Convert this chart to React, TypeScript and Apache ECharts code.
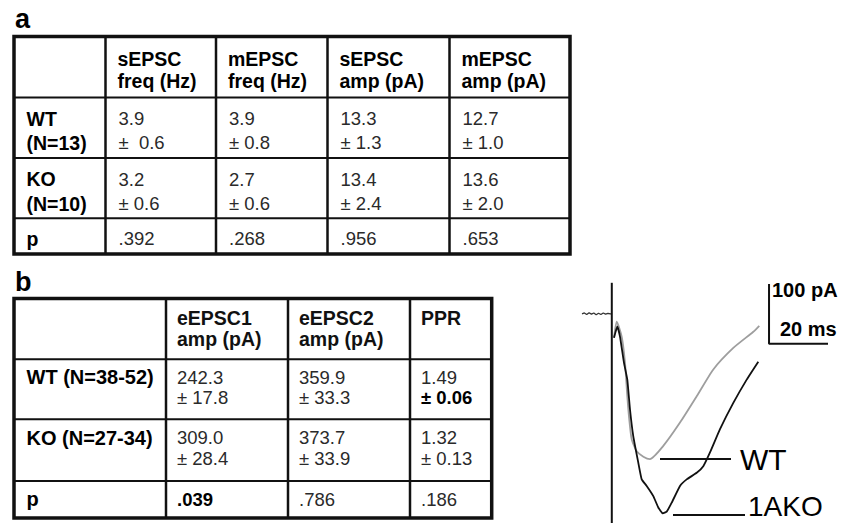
import React, { useEffect, useRef } from "react";
import * as echarts from "echarts";

const FONT = "'Liberation Sans', Arial, Helvetica, sans-serif";

// ---------- Table a ----------
const aColHeads = [["sEPSC", "freq (Hz)"], ["mEPSC", "freq (Hz)"], ["sEPSC", "amp (pA)"], ["mEPSC", "amp (pA)"]];
const aRowHeads = [["WT", "(N=13)"], ["KO", "(N=10)"], ["p"]];
const aWtMean = ["3.9", "3.9", "13.3", "12.7"];
const aWtSem = ["±  0.6", "± 0.8", "± 1.3", "± 1.0"];
const aKoMean = ["3.2", "2.7", "13.4", "13.6"];
const aKoSem = ["± 0.6", "± 0.6", "± 2.4", "± 2.0"];
const aP = [".392", ".268", ".956", ".653"];

// ---------- Table b ----------
const bColHeads = [["eEPSC1", "amp (pA)"], ["eEPSC2", "amp (pA)"], ["PPR"]];
const bRowHeads = ["WT (N=38-52)", "KO (N=27-34)", "p"];
const bWtMean = ["242.3", "359.9", "1.49"];
const bWtSem = ["± 17.8", "± 33.3", "± 0.06"];
const bKoMean = ["309.0", "373.7", "1.32"];
const bKoSem = ["± 28.4", "± 33.9", "± 0.13"];
const bP = [".039", ".786", ".186"];
const bBoldCells = ["± 0.06", ".039"];

// ---------- Traces (time in ms, current in pA) ----------
const baseTime = [0, 0.8, 1.6, 2.4, 3.2, 4.0, 4.8, 5.6, 6.4, 7.2, 8.0, 8.8, 9.6, 10.1];
const baseCurrent = [0, 1.5, -1, 2, -0.5, 1.5, -1.5, 1, -1, 1.5, -0.5, 1, 0, 0];
const artifactTime = [10.1, 10.1];
const artifactCurrent = [52, -350];
const wtTime = [10.85, 11.76, 13.46, 14.58, 15.36, 16.03, 16.85, 18.54, 20.8, 23.05, 27.56, 33.22, 38.88, 44.51, 51.29, 58.07, 60.1];
const wtCurrent = [-40, -13, -38, -82, -138, -177, -210, -230, -239, -243, -221, -182, -138, -93, -57, -30, -20];
const koTime = [10.85, 11.97, 12.88, 14.24, 15.36, 16.27, 17.39, 19.08, 20.24, 21.93, 24.17, 25.86, 27.36, 28.71, 30.41, 33.22, 35.49, 38.88, 41.12, 43.39, 46.78, 51.29, 55.83, 59.76];
const koCurrent = [-40, -21, -38, -82, -110, -160, -205, -249, -277, -288, -305, -324, -334, -331, -316, -288, -277, -266, -255, -232, -193, -149, -110, -80];
const scaleTime = [63.4, 63.4, 83.4];
const scaleCurrent = [50, -50, -50];
const scaleLabels = ["100 pA", "20 ms"];
const traceLabels = ["WT", "1AKO"];
const panelLabels = ["a", "b"];

const zip = (xs: number[], ys: number[]) => xs.map((x, i) => [x, ys[i]]);

const txt = (text: string, x: number, y: number, size: number, bold: boolean, fill = "#000") => ({
  type: "text",
  x,
  y,
  silent: true,
  style: {
    text,
    font: `${bold ? "bold " : ""}${size}px ${FONT}`,
    fill,
    textAlign: "left",
    textVerticalAlign: "middle",
    align: "left",
    verticalAlign: "middle",
  },
});
const ln = (x1: number, y1: number, x2: number, y2: number, w: number) => ({
  type: "line",
  silent: true,
  shape: { x1, y1, x2, y2 },
  style: { stroke: "#111", lineWidth: w },
});
const box = (x1: number, y1: number, x2: number, y2: number, w: number) => ({
  type: "rect",
  silent: true,
  shape: { x: x1, y: y1, width: x2 - x1, height: y2 - y1 },
  style: { fill: "none", stroke: "#111", lineWidth: w },
});

function buildGraphics() {
  const els: any[] = [];
  const dataColor = "#2a2a2a";
  // panel letters
  els.push(txt(panelLabels[0], 15, 18.6, 27, true));
  els.push(txt(panelLabels[1], 15, 282.3, 27, true));

  // ---- table a ----
  const aL = 14, aR = 570, aT = 36.5, aB = 254;
  const aCols = [105.5, 216, 327.5, 449.5];
  const aRows = [97.5, 158, 218.3];
  aCols.forEach((c) => els.push(ln(c, aT, c, aB, 2.5)));
  aRows.forEach((r) => els.push(ln(aL, r, aR, r, 2)));
  els.push(box(aL, aT, aR, aB, 3.5));
  const aHeadY = [59.2, 81];
  aColHeads.forEach((h, i) => h.forEach((s, j) => els.push(txt(s, aCols[i] + 12, aHeadY[j], 19.5, true))));
  const aRowY = [[118.8, 142.5], [179, 203.5], [238.5]];
  aRowHeads.forEach((h, i) => h.forEach((s, j) => els.push(txt(s, 26.5, aRowY[i][j], 19.5, true))));
  aCols.forEach((c, i) => {
    els.push(txt(aWtMean[i], c + 13, aRowY[0][0], 18.5, false, dataColor));
    els.push(txt(aWtSem[i], c + 13, aRowY[0][1], 18.5, false, dataColor));
    els.push(txt(aKoMean[i], c + 13, aRowY[1][0], 18.5, false, dataColor));
    els.push(txt(aKoSem[i], c + 13, aRowY[1][1], 18.5, false, dataColor));
    els.push(txt(aP[i], c + 13, aRowY[2][0], 18.5, false, dataColor));
  });

  // ---- table b ----
  const bL = 14, bR = 491.7, bT = 298.5, bB = 518;
  const bCols = [166, 288, 410];
  const bRows = [359.3, 419.3, 481];
  bCols.forEach((c) => els.push(ln(c, bT, c, bB, 2.5)));
  bRows.forEach((r) => els.push(ln(bL, r, bR, r, 2)));
  els.push(box(bL, bT, bR, bB, 3.5));
  const bHeadY = [318.3, 339];
  bColHeads.forEach((h, i) => h.forEach((s, j) => els.push(txt(s, bCols[i] + 11, bHeadY[j], 19.5, true, "#111"))));
  const bRowY = [[377, 397.5], [437.5, 458], [499]];
  bRowHeads.forEach((s, i) => els.push(txt(s, 26.5, bRowY[i][0], 20, true)));
  const cell = (s: string, x: number, y: number) =>
    txt(s, x, y, 18.5, bBoldCells.includes(s), bBoldCells.includes(s) ? "#000" : dataColor);
  bCols.forEach((c, i) => {
    els.push(cell(bWtMean[i], c + 11, bRowY[0][0]));
    els.push(cell(bWtSem[i], c + 11, bRowY[0][1]));
    els.push(cell(bKoMean[i], c + 11, bRowY[1][0]));
    els.push(cell(bKoSem[i], c + 11, bRowY[1][1]));
    els.push(cell(bP[i], c + 11, bRowY[2][0]));
  });

  // ---- trace annotations ----
  els.push(txt(scaleLabels[0], 772, 290, 20, true));
  els.push(txt(scaleLabels[1], 780, 329, 20, true));
  els.push(ln(660, 459, 731, 459, 2));
  els.push(txt(traceLabels[0], 740, 459, 30, false));
  els.push(ln(673, 515, 745, 515, 2));
  els.push(txt(traceLabels[1], 748, 506, 28, false));
  return els;
}

function buildOption() {
  const lineBase = { type: "line", symbol: "none", silent: true, clip: false, animation: false };
  return {
    animation: false,
    backgroundColor: "#fff",
    grid: { left: 582, top: 282.8, width: 247.8, height: 241.2 },
    xAxis: { type: "value", min: 0, max: 84, show: false },
    yAxis: { type: "value", min: -350, max: 52, show: false },
    series: [
      { ...lineBase, data: zip(baseTime, baseCurrent), lineStyle: { color: "#333", width: 1.3 } },
      { ...lineBase, data: zip(artifactTime, artifactCurrent), lineStyle: { color: "#111", width: 2 } },
      { ...lineBase, data: zip(wtTime, wtCurrent), smooth: 0.2, lineStyle: { color: "#9e9e9e", width: 1.8 } },
      { ...lineBase, data: zip(koTime, koCurrent), smooth: 0.12, lineStyle: { color: "#111", width: 1.8 } },
      { ...lineBase, data: zip(scaleTime, scaleCurrent), lineStyle: { color: "#111", width: 2 } },
    ],
    graphic: { elements: buildGraphics() },
  };
}

export default function App() {
  const ref = useRef<HTMLDivElement>(null);
  useEffect(() => {
    const chart = echarts.init(ref.current!, null, { renderer: "svg" });
    chart.setOption(buildOption() as any);
    return () => chart.dispose();
  }, []);
  return (
    <div
      ref={ref}
      style={{ position: "fixed", left: 0, top: 0, width: 844, height: 523, background: "#fff" }}
    />
  );
}
